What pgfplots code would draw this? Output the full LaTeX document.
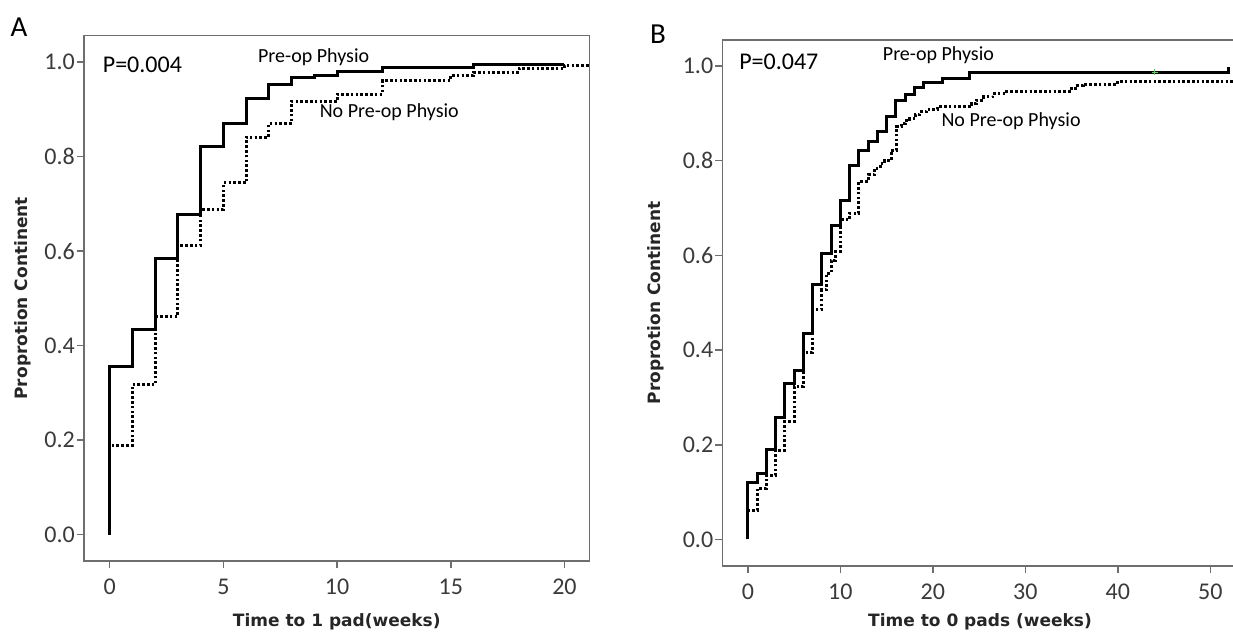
\documentclass[border=0pt]{standalone}
\usepackage{fontspec}
\setmainfont{Carlito}
\newfontfamily\labfont{DejaVu Sans}
\usepackage{pgfplots}
\pgfplotsset{compat=1.18}

\definecolor{framegray}{HTML}{6E6E6E}
\definecolor{tickgray}{HTML}{3A3A3A}
\definecolor{censorgreen}{HTML}{66CC66}

\newcommand{\labelfont}{\labfont\bfseries\fontsize{17}{20}\selectfont}

% common SPSS-like look for both survival panels
\pgfplotsset{
  kmaxis/.style={
    scale only axis,
    axis line style={framegray, line width=1.5pt},
    tick style={framegray, line width=1.5pt},
    major tick length=7pt,
    tick align=outside,
    tick pos=left,
    /pgf/number format/assume math mode=true,
    tick label style={font=\fontsize{24}{28}\selectfont, text=tickgray},
    yticklabel style={/pgf/number format/fixed, /pgf/number format/fixed zerofill,
      /pgf/number format/precision=1, inner sep=2pt},
    xticklabel style={inner sep=0pt, yshift=-11pt},
    ytick={0,0.2,0.4,0.6,0.8,1.0},
    ylabel={Proprotion Continent},
    clip=true,
  },
  pre/.style={black, line width=3pt, const plot, line join=miter},
  nopre/.style={black, line width=3pt, const plot, dash pattern=on 2.6pt off 2.2pt},
}
\tikzset{note/.style={font=\fontsize{20}{24}\selectfont, anchor=west, inner sep=0pt}}

\pgfplotstableread{
t s
0 0
0 0.355
1 0.434
2 0.585
3 0.677
4 0.822
5 0.869
6 0.922
7 0.953
8 0.967
9 0.972
10 0.979
12 0.988
16 0.995
20 0.995
}\preA

\pgfplotstableread{
t s
0 0
0 0.189
1 0.317
2 0.462
3 0.612
4 0.688
5 0.744
6 0.841
7 0.870
8 0.917
10 0.932
12 0.961
15 0.972
16 0.978
18 0.986
20 0.993
21.1 0.993
}\nopreA

\pgfplotstableread{
t s
0 0
0 0.120
1 0.139
2 0.191
3 0.257
4 0.330
5 0.356
6 0.435
7 0.539
8 0.605
9 0.664
10 0.717
11 0.789
12 0.822
13 0.841
14 0.862
15 0.893
16 0.927
17 0.940
18 0.954
19 0.965
21 0.974
24 0.987
52 0.998
}\preB

\pgfplotstableread{
t s
0 0
0 0.062
1 0.108
2 0.135
3 0.189
4 0.249
5 0.323
6 0.395
7 0.485
8 0.527
8.5 0.562
9 0.590
9.5 0.608
10 0.675
11 0.689
12 0.756
13 0.770
13.7 0.784
14.3 0.794
14.8 0.801
15.5 0.822
16.1 0.872
16.6 0.878
17.0 0.884
17.5 0.889
18.1 0.898
18.6 0.903
19.3 0.908
20.5 0.914
24.2 0.921
24.7 0.928
25.5 0.935
26.5 0.942
28.0 0.946
35.0 0.953
35.6 0.958
36.3 0.962
40.0 0.968
56 0.968
}\nopreB

\begin{document}
\begin{tikzpicture}
\useasboundingbox (0,0) rectangle (1233pt,633pt);
\clip (0,0) rectangle (1233pt,633pt);

\node[font=\fontsize{29}{32}\selectfont, inner sep=0pt] at (19pt,606pt) {A};
\node[font=\fontsize{29}{32}\selectfont, inner sep=0pt] at (658pt,599pt) {B};

% panel A: time to 1 pad
\begin{axis}[kmaxis,
  at={(84pt,72pt)}, anchor=south west,
  width=505.5pt, height=525.5pt,
  xmin=-1.13, xmax=21.1, ymin=-0.056, ymax=1.056,
  xtick={0,5,10,15,20},
  xlabel={Time to 1 pad(weeks)},
  every axis x label/.style={at={(axis description cs:0.5,-0.1155)}, anchor=center,
    font=\labelfont, text=black!85},
  every axis y label/.style={at={(axis description cs:-0.1207,0.5)}, rotate=90, anchor=center,
    font=\labelfont, text=black!85},
]
\addplot[nopre] table[x=t, y=s] {\nopreA};
\addplot[pre] table[x=t, y=s] {\preA};
\node[note, font=\fontsize{24}{28}\selectfont] at (axis cs:-0.31,0.993) {P=0.004};
\node[note] at (axis cs:6.52,1.010) {Pre-op Physio};
\node[note] at (axis cs:9.23,0.894) {No Pre-op Physio};
\end{axis}

% panel B: time to 0 pads (cut at the right edge as in the original)
\begin{axis}[kmaxis,
  at={(722.4pt,67pt)}, anchor=south west,
  width=537pt, height=526pt,
  xmin=-2.75, xmax=55.3, ymin=-0.056, ymax=1.055,
  xtick={0,10,20,30,40,50},
  xlabel={Time to 0 pads (weeks)},
  every axis x label/.style={at={(axis description cs:0.4797,-0.1059)}, anchor=center,
    font=\labelfont, text=black!85},
  every axis y label/.style={at={(axis description cs:-0.1242,0.5)}, rotate=90, anchor=center,
    font=\labelfont, text=black!85},
]
\addplot[nopre] table[x=t, y=s] {\nopreB};
\addplot[pre] table[x=t, y=s] {\preB};
\addplot[only marks, mark=+, mark size=3pt, censorgreen, line width=1pt] coordinates {(44,0.987)};
\node[note, font=\fontsize{24}{28}\selectfont] at (axis cs:-0.95,1.008) {P=0.047};
\node[note] at (axis cs:14.58,1.023) {Pre-op Physio};
\node[note] at (axis cs:20.92,0.884) {No Pre-op Physio};
\end{axis}
\end{tikzpicture}
\end{document}
